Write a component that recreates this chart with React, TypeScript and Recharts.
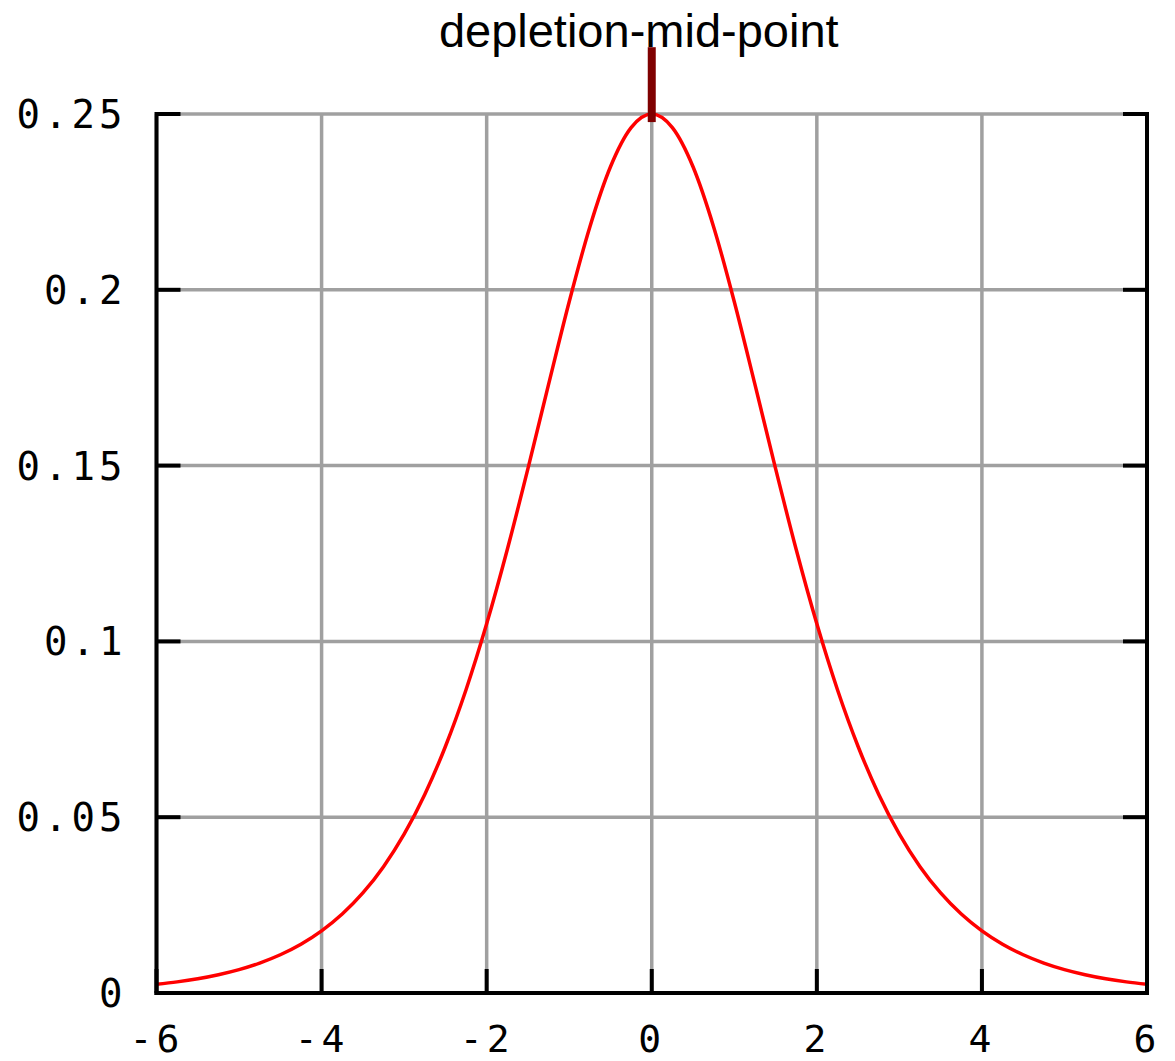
import React from 'react';
import { LineChart, Line, XAxis, YAxis, CartesianGrid, ReferenceLine } from 'recharts';

const xValues = [
  -6, -5.75, -5.5, -5.25, -5, -4.75, -4.5, -4.25, -4, -3.75, -3.5, -3.25, -3, -2.75, -2.5, -2.25,
  -2, -1.75, -1.5, -1.25, -1, -0.75, -0.5, -0.25, 0, 0.25, 0.5, 0.75, 1, 1.25, 1.5, 1.75,
  2, 2.25, 2.5, 2.75, 3, 3.25, 3.5, 3.75, 4, 4.25, 4.5, 4.75, 5, 5.25, 5.5, 5.75, 6,
];
const yValues = [
  0.00247, 0.00316, 0.00405, 0.0052, 0.00665, 0.00851, 0.01087, 0.01386, 0.01766, 0.02245, 0.02845,
  0.03594, 0.04518, 0.05648, 0.07011, 0.08626, 0.10499, 0.12613, 0.14915, 0.1731, 0.19661, 0.21789,
  0.235, 0.24613, 0.25, 0.24613, 0.235, 0.21789, 0.19661, 0.1731, 0.14915, 0.12613, 0.10499,
  0.08626, 0.07011, 0.05648, 0.04518, 0.03594, 0.02845, 0.02245, 0.01766, 0.01386, 0.01087,
  0.00851, 0.00665, 0.0052, 0.00405, 0.00316, 0.00247,
];
const xTicks = [-6, -4, -2, 0, 2, 4, 6];
const yTicks = [0, 0.05, 0.1, 0.15, 0.2, 0.25];
const yTickLabels = ['0', '0.05', '0.1', '0.15', '0.2', '0.25'];
const midPoint = 0;
const titleText = 'depletion-mid-point';

const data = xValues.map((x, i) => ({ x, y: yValues[i] }));

const TICK_LEN = 24;
const monoFont = '"DejaVu Sans Mono", monospace';

const BottomTick = (props: any) => {
  const { x, y, payload } = props;
  return (
    <g>
      <line x1={x} y1={y} x2={x} y2={y - TICK_LEN} stroke="#000" strokeWidth={4} />
      <text x={x} y={y + 59} textAnchor="middle" fontFamily={monoFont} fontSize={38} letterSpacing={4} fill="#000">
        {String(payload.value)}
      </text>
    </g>
  );
};

const TopTick = (props: any) => {
  const { x, y } = props;
  return <line x1={x} y1={y} x2={x} y2={y + TICK_LEN} stroke="#000" strokeWidth={4} />;
};

const LeftTick = (props: any) => {
  const { x, y, payload } = props;
  const idx = yTicks.indexOf(payload.value);
  const label = idx >= 0 ? yTickLabels[idx] : String(payload.value);
  return (
    <g>
      <line x1={x} y1={y} x2={x + TICK_LEN} y2={y} stroke="#000" strokeWidth={4} />
      <text x={x - 30} y={y} dy="0.36em" textAnchor="end" fontFamily={monoFont} fontSize={39} letterSpacing={4} fill="#000">
        {label}
      </text>
    </g>
  );
};

const RightTick = (props: any) => {
  const { x, y } = props;
  return <line x1={x} y1={y} x2={x - TICK_LEN} y2={y} stroke="#000" strokeWidth={4} />;
};

const axisLineStyle = { stroke: '#000', strokeWidth: 4, strokeLinecap: 'square' as const };

export default function App() {
  return (
    <div style={{ position: 'absolute', left: 0, top: 0, width: 1175, height: 1061, background: '#fff' }}>
      <LineChart width={1175} height={1061} data={data} margin={{ top: 114, right: 0, left: 0, bottom: 0 }}>
        <CartesianGrid stroke="#a0a0a0" strokeWidth={3.5} />
        <XAxis
          dataKey="x"
          type="number"
          domain={[-6, 6]}
          ticks={xTicks}
          height={68}
          tickSize={0}
          tickMargin={0}
          tickLine={false}
          axisLine={axisLineStyle}
          tick={<BottomTick />}
          interval={0}
        />
        <XAxis
          xAxisId="top"
          dataKey="x"
          type="number"
          orientation="top"
          domain={[-6, 6]}
          ticks={xTicks}
          height={0}
          tickSize={0}
          tickMargin={0}
          tickLine={false}
          axisLine={axisLineStyle}
          tick={<TopTick />}
          interval={0}
        />
        <YAxis
          type="number"
          domain={[0, 0.25]}
          ticks={yTicks}
          width={156.5}
          tickSize={0}
          tickMargin={0}
          tickLine={false}
          axisLine={axisLineStyle}
          tick={<LeftTick />}
          interval={0}
        />
        <YAxis
          yAxisId="right"
          orientation="right"
          type="number"
          domain={[0, 0.25]}
          ticks={yTicks}
          width={28}
          tickSize={0}
          tickMargin={0}
          tickLine={false}
          axisLine={axisLineStyle}
          tick={<RightTick />}
          interval={0}
        />
        <Line
          xAxisId="top"
          yAxisId="right"
          dataKey="y"
          stroke="transparent"
          dot={false}
          activeDot={false}
          isAnimationActive={false}
        />
        <Line
          dataKey="y"
          type="monotone"
          stroke="#ff0000"
          strokeWidth={3.5}
          dot={false}
          activeDot={false}
          isAnimationActive={false}
        />
        <ReferenceLine
          segment={[
            { x: midPoint, y: 0.2477 },
            { x: midPoint, y: 0.269 },
          ]}
          stroke="#7f0000"
          strokeWidth={8}
          ifOverflow="visible"
          label={(p: any) => {
            const vb = p.viewBox || {};
            return (
              <text
                x={(vb.x ?? 652) - 13}
                y={(vb.y ?? 47) - 0.5}
                textAnchor="middle"
                fontFamily='"Liberation Sans", Arial, sans-serif'
                fontSize={47}
                fill="#000"
              >
                {titleText}
              </text>
            );
          }}
        />
      </LineChart>
    </div>
  );
}
